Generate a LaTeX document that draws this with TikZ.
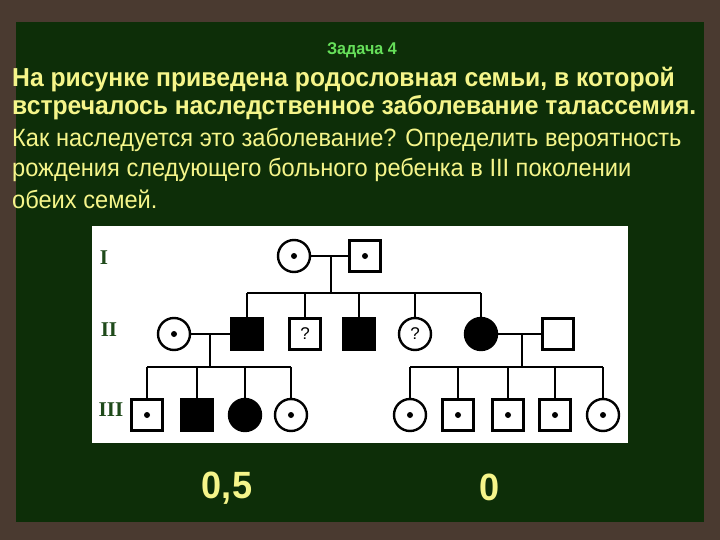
\documentclass[tikz,border=0pt]{standalone}
\usepackage{fontspec}
\setmainfont{Liberation Sans}
\newfontfamily\narrowb[FakeStretch=0.95]{Liberation Sans}
\newfontfamily\narrow[FakeStretch=0.945]{Liberation Sans}
\newfontfamily\serifb{Liberation Serif}
\definecolor{wood}{HTML}{4A3A30}
\definecolor{board}{HTML}{0D2E08}
\definecolor{ttl}{HTML}{66E05A}
\definecolor{txt}{HTML}{F5F58A}
\definecolor{gen}{HTML}{1F4A1A}
\begin{document}
\begin{tikzpicture}[x=1pt,y=-1pt,
  sq/.style={draw=black,line width=2.4pt,fill=white,minimum size=31pt,inner sep=0pt,shape=rectangle,font=\fontsize{17}{17}\selectfont},
  ci/.style={draw=black,line width=2.4pt,fill=white,circle,minimum size=32pt,inner sep=0pt,font=\fontsize{17}{17}\selectfont},
  aff/.style={fill=black},
  dt/.style={fill=black,circle,inner sep=0pt,minimum size=6pt},
  ln/.style={line width=2.4pt},
  genl/.style={text=gen,font=\serifb\bfseries\fontsize{21}{21}\selectfont},
  tx/.style={anchor=west,inner sep=0pt,text=txt}]
\useasboundingbox (0,0) rectangle (720,540);
\fill[wood] (0,0) rectangle (720,540);
\fill[board] (16,22) rectangle (704,522);
\fill[white] (92,226) rectangle (628,443);
\node[text=ttl,font=\narrowb\bfseries\fontsize{17}{17}\selectfont] (t) at (362,50) {Задача 4};
\node[tx,font=\narrowb\bfseries\fontsize{26}{26}\selectfont] (l1) at (12,80) {На рисунке приведена родословная семьи, в которой};
\node[tx,font=\narrowb\bfseries\fontsize{26}{26}\selectfont] (l2) at (12,108) {встречалось наследственное заболевание талассемия.};
\node[tx,font=\narrow\fontsize{25}{25}\selectfont] (l3) at (12,140) {Как наследуется это заболевание? Определить вероятность};
\node[tx,font=\narrow\fontsize{25}{25}\selectfont] (l4) at (12,170) {рождения следующего больного ребенка в III поколении};
\node[tx,font=\narrow\fontsize{25}{25}\selectfont] (l5) at (12,199) {обеих семей.};
\node[text=txt,font=\narrowb\bfseries\fontsize{38}{38}\selectfont] (a1) at (227,488) {0,5};
\node[text=txt,font=\narrowb\bfseries\fontsize{38}{38}\selectfont] (a2) at (490,487) {0};
\node[genl] (g1) at (104,258) {I};
\node[genl] (g2) at (109,330) {II};
\node[genl] (g3) at (111,410) {III};
% generation I
\node[ci] (m) at (294,256) {};
\node[sq] (f) at (365,256) {};
\node[dt] at (m) {}; \node[dt] at (f) {};
\coordinate (mf) at (331,256);
\coordinate (b1) at (331,293);
% generation II
\node[ci] (w1) at (174,334) {};
\node[sq,aff] (s1) at (247,334) {};
\node[sq] (s2) at (305,334) {?};
\node[sq,aff] (s3) at (359,334) {};
\node[ci] (s4) at (415,334) {?};
\node[ci,aff] (s5) at (481,334) {};
\node[sq] (h2) at (558,334) {};
\node[dt] at (w1) {};
\draw[ln] (m) -- (f);
\draw[ln] (mf) -- (b1);
\draw[ln] (s1.north |- b1) -- (s5.north |- b1);
\foreach \n in {s1,s2,s3,s4,s5} \draw[ln] (\n.north |- b1) -- (\n.north);
\coordinate (c1) at (210,334);
\coordinate (c2) at (522,334);
\draw[ln] (w1) -- (s1);
\draw[ln] (s5) -- (h2);
% generation III
\node[sq] (k1) at (147,415) {};
\node[sq,aff] (k2) at (197,415) {};
\node[ci,aff] (k3) at (245,415) {};
\node[ci] (k4) at (291,415) {};
\node[ci] (k5) at (410,415) {};
\node[sq] (k6) at (458,415) {};
\node[sq] (k7) at (508,415) {};
\node[sq] (k8) at (555,415) {};
\node[ci] (k9) at (603,415) {};
\foreach \n in {k1,k4,k5,k6,k7,k8,k9} \node[dt] at (\n) {};
\draw[ln] (c1) -- (c1 |- 0,367);
\draw[ln] (c2) -- (c2 |- 0,367);
\draw[ln] (k1.north |- 0,367) -- (k4.north |- 0,367);
\draw[ln] (k5.north |- 0,367) -- (k9.north |- 0,367);
\foreach \n in {k1,k2,k3,k4,k5,k6,k7,k8,k9} \draw[ln] (\n.north |- 0,367) -- (\n.north);
\end{tikzpicture}
\end{document}
